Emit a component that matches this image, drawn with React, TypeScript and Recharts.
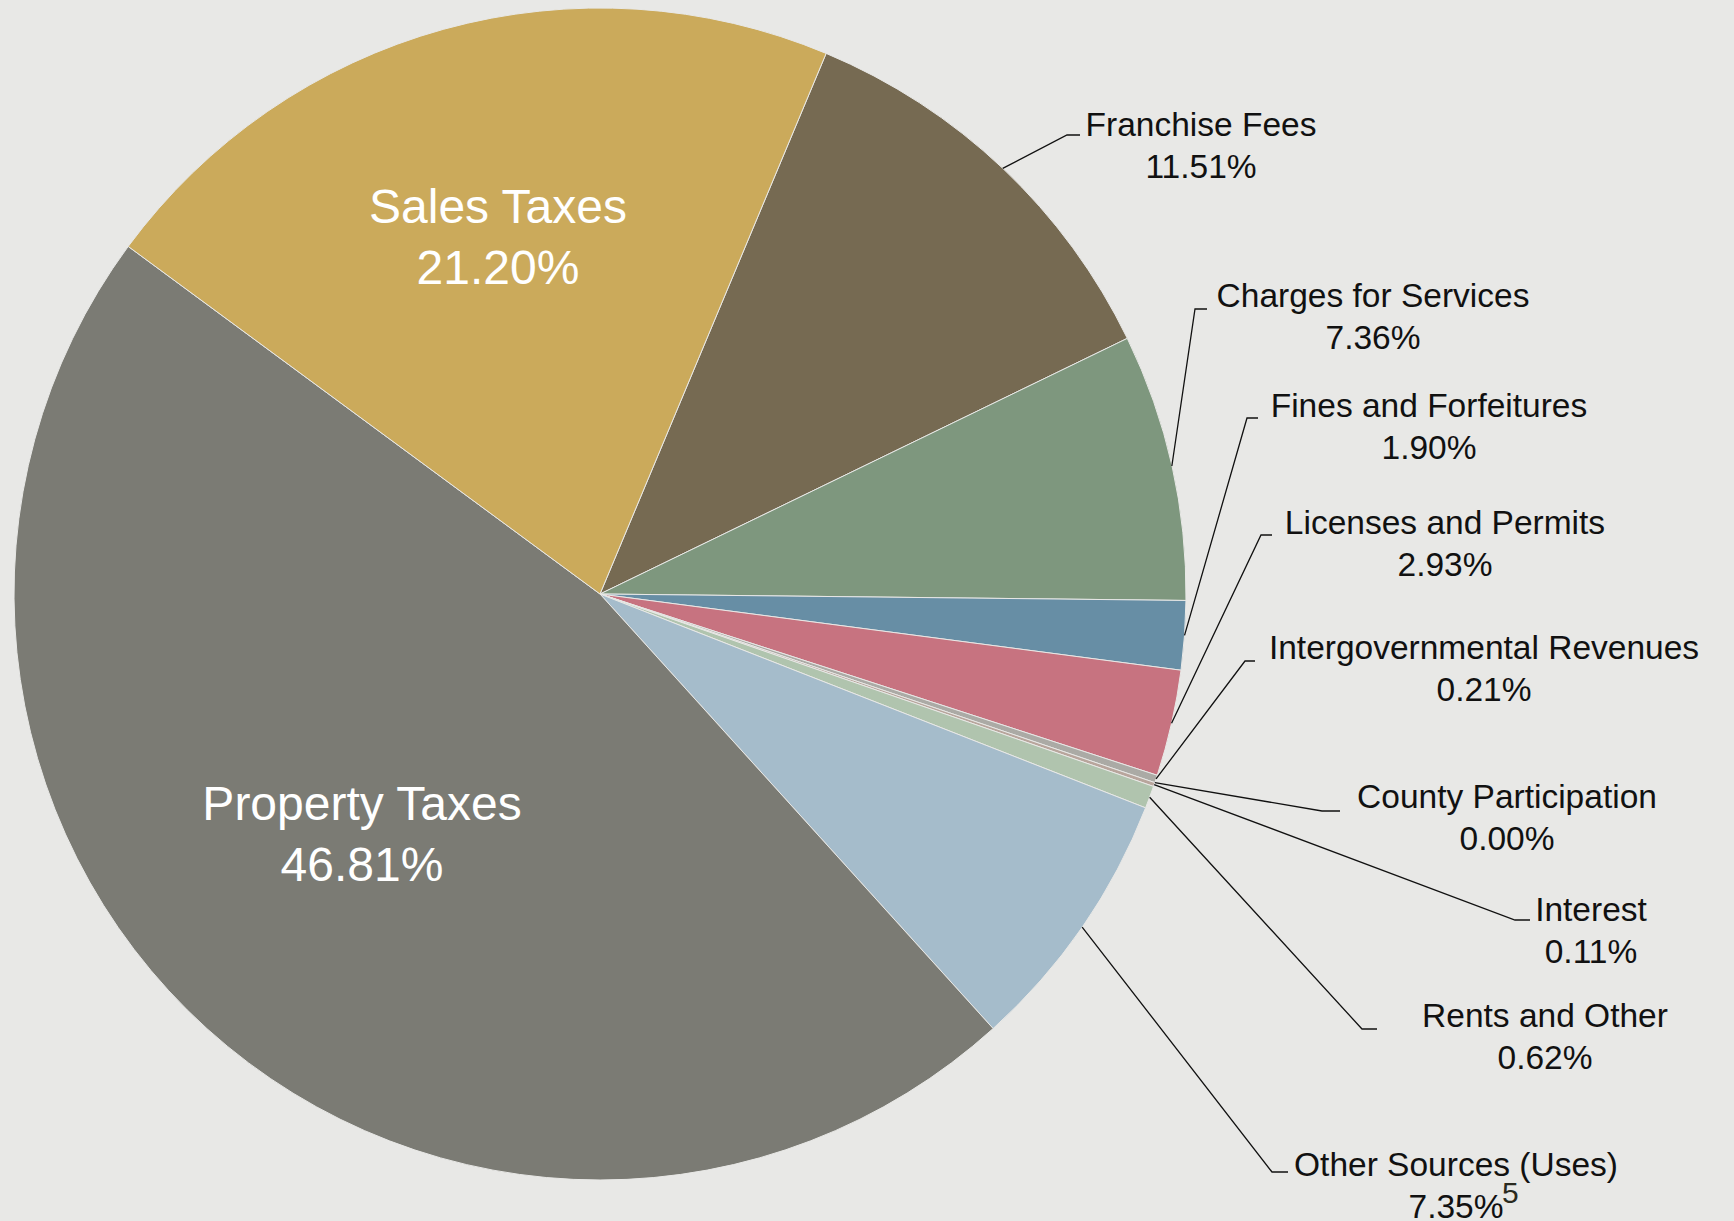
import React from 'react';
import { PieChart, Pie, Cell } from 'recharts';

// slices, clockwise from Franchise Fees
const categories = [
  'Franchise Fees',
  'Charges for Services',
  'Fines and Forfeitures',
  'Licenses and Permits',
  'Intergovernmental Revenues',
  'County Participation',
  'Interest',
  'Rents and Other',
  'Other Sources (Uses)',
  'Property Taxes',
  'Sales Taxes',
];
const shares = [11.51, 7.36, 1.9, 2.93, 0.21, 0.0, 0.11, 0.62, 7.35, 46.81, 21.2];
const sliceColors = [
  '#766a52',
  '#7e977e',
  '#678ea5',
  '#c77380',
  '#abaaa5',
  '#a9a9a9',
  '#b8a59c',
  '#b0c4ae',
  '#a5bccb',
  '#7b7b74',
  '#cbaa5b',
];

// label placement (text centre x, first baseline y, leader elbow, leader end)
const labelLayout = [
  { x: 1201, y: 136, ex: 1067, ey: 135, tx: 1080 },
  { x: 1373, y: 307, ex: 1195, ey: 309, tx: 1207 },
  { x: 1429, y: 417, ex: 1247, ey: 418, tx: 1258 },
  { x: 1445, y: 534, ex: 1261, ey: 535, tx: 1272 },
  { x: 1484, y: 659, ex: 1245, ey: 661, tx: 1255 },
  { x: 1507, y: 808, ex: 1322, ey: 811, tx: 1340 },
  { x: 1591, y: 921, ex: 1515, ey: 920, tx: 1530 },
  { x: 1545, y: 1027, ex: 1362, ey: 1029, tx: 1377 },
  { x: 1456, y: 1176, ex: 1272, ey: 1172, tx: 1288 },
  { x: 362, y: 820, inside: true },
  { x: 498, y: 223, inside: true },
];

const data = categories.map((name, i) => ({ name, value: shares[i] }));

const RAD = Math.PI / 180;
const FONT = '"Liberation Sans", Arial, sans-serif';

const renderLabel = (props: any) => {
  const { cx, cy, midAngle, outerRadius, index } = props;
  const lay = labelLayout[index];
  const pct = shares[index].toFixed(2) + '%';
  if (lay.inside) {
    return (
      <g>
        <text x={lay.x} y={lay.y} textAnchor="middle" fill="#ffffff" fontSize={48} fontFamily={FONT}>
          {categories[index]}
        </text>
        <text x={lay.x} y={lay.y + 61} textAnchor="middle" fill="#ffffff" fontSize={48} fontFamily={FONT}>
          {pct}
        </text>
      </g>
    );
  }
  const sx = cx + outerRadius * Math.cos(-midAngle * RAD);
  const sy = cy + outerRadius * Math.sin(-midAngle * RAD);
  return (
    <g>
      <polyline
        points={`${sx},${sy} ${lay.ex},${lay.ey} ${lay.tx},${lay.ey}`}
        fill="none"
        stroke="#111"
        strokeWidth={1.3}
      />
      <text x={lay.x} y={lay.y} textAnchor="middle" fill="#111" fontSize={33.5} fontFamily={FONT}>
        {categories[index]}
      </text>
      <text x={lay.x} y={lay.y + 42} textAnchor="middle" fill="#111" fontSize={33.5} fontFamily={FONT}>
        {pct}
      </text>
    </g>
  );
};

export default function App() {
  return (
    <div style={{ position: 'absolute', left: 0, top: 0, width: 1734, height: 1221, background: '#e8e8e6' }}>
      <PieChart width={1734} height={1221} margin={{ top: 0, right: 0, bottom: 0, left: 0 }}>
        <Pie
          data={data}
          dataKey="value"
          nameKey="name"
          cx={600}
          cy={594}
          outerRadius={586}
          startAngle={67.3}
          endAngle={-292.7}
          stroke="#e8e8e6"
          strokeWidth={1}
          label={renderLabel}
          labelLine={false}
          isAnimationActive={false}
        >
          {data.map((d, i) => (
            <Cell key={d.name} fill={sliceColors[i]} />
          ))}
        </Pie>
        <text x={1502} y={1203} fill="#2a2a20" fontSize={30} fontFamily={FONT}>
          5
        </text>
      </PieChart>
    </div>
  );
}
